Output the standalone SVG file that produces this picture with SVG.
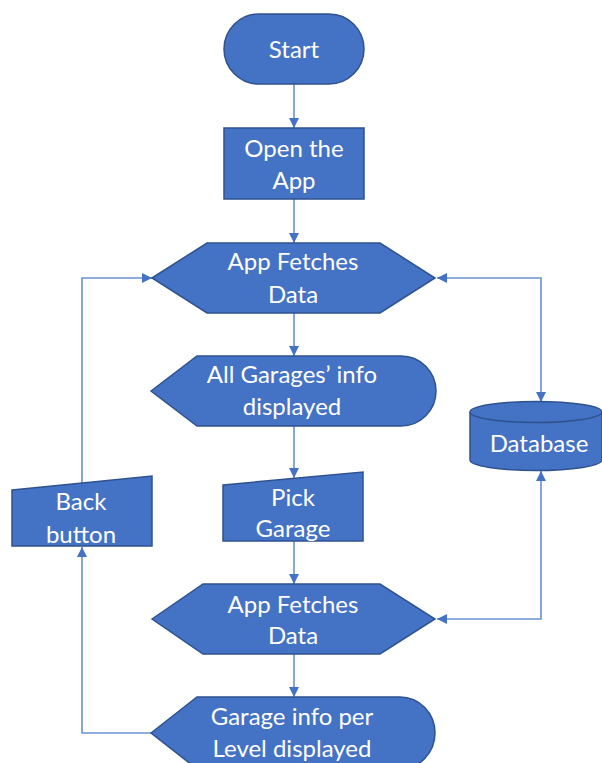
<svg xmlns="http://www.w3.org/2000/svg" width="602" height="763" viewBox="0 0 602 763">
  <defs>
    <marker id="arrow" viewBox="0 0 10 10" refX="10" refY="5" markerWidth="10" markerHeight="10" markerUnits="userSpaceOnUse" orient="auto-start-reverse">
      <path d="M0,0 L10,5 L0,10 z" fill="#4472C4"/>
    </marker>
    <style>
      .shape { fill: #4472C4; stroke: #2F528F; stroke-width: 1.5; }
      .label { fill: #ffffff; font-family: "Lato", "Open Sans", "Liberation Sans", sans-serif; font-size: 24px; text-anchor: middle; }
      .conn { fill: none; stroke: #6A92D4; stroke-width: 1.6; }
    </style>
  </defs>
  <rect width="602" height="763" fill="#ffffff"/>

  <!-- connectors -->
  <g id="connectors">
    <path class="conn" d="M294,84 V128" marker-end="url(#arrow)"/>
    <path class="conn" d="M294,199 V243" marker-end="url(#arrow)"/>
    <path class="conn" d="M294,313 V356" marker-end="url(#arrow)"/>
    <path class="conn" d="M294,426 V478" marker-end="url(#arrow)"/>
    <path class="conn" d="M294,541 V584" marker-end="url(#arrow)"/>
    <path class="conn" d="M294,654 V697" marker-end="url(#arrow)"/>
    <!-- fetch <-> database -->
    <path class="conn" d="M437,278 H541 V402" marker-start="url(#arrow)" marker-end="url(#arrow)"/>
    <path class="conn" d="M541,471 V619 H437" marker-start="url(#arrow)" marker-end="url(#arrow)"/>
    <!-- back button loop -->
    <path class="conn" d="M82,483 V278 H152" marker-end="url(#arrow)"/>
    <path class="conn" d="M152,733 H82 V547" marker-end="url(#arrow)"/>
  </g>

  <g id="start">
    <rect class="shape" x="224" y="14" width="140" height="70" rx="35" ry="35"/>
    <text class="label" x="294" y="58">Start</text>
  </g>

  <g id="open-app">
    <rect class="shape" x="224" y="128" width="140" height="71"/>
    <text class="label" x="294" y="157">Open the</text>
    <text class="label" x="294" y="189">App</text>
  </g>

  <g id="fetch-1">
    <polygon class="shape" points="152,278 207,243 380,243 435,278 380,313 207,313"/>
    <text class="label" x="293" y="270">App Fetches</text>
    <text class="label" x="293" y="303">Data</text>
  </g>

  <g id="all-garages">
    <path class="shape" d="M151,391 L197,356 H401 A35,35 0 0 1 401,426 H197 Z"/>
    <text class="label" x="292" y="383">All Garages’ info</text>
    <text class="label" x="292" y="415">displayed</text>
  </g>

  <g id="pick-garage">
    <polygon class="shape" points="223,485 363,472 363,541 223,541"/>
    <text class="label" x="293" y="506">Pick</text>
    <text class="label" x="293" y="537">Garage</text>
  </g>

  <g id="back-button">
    <polygon class="shape" points="12,490 152,476 152,546 12,546"/>
    <text class="label" x="81" y="510">Back</text>
    <text class="label" x="81" y="543">button</text>
  </g>

  <g id="fetch-2">
    <polygon class="shape" points="152,619 203,584 380,584 435,619 380,654 203,654"/>
    <text class="label" x="293" y="613">App Fetches</text>
    <text class="label" x="293" y="644">Data</text>
  </g>

  <g id="garage-level">
    <path class="shape" d="M151,733 L197,697 H400 A35,36 0 0 1 400,769 H197 Z"/>
    <text class="label" x="292" y="725">Garage info per</text>
    <text class="label" x="292" y="757">Level displayed</text>
  </g>

  <g id="database">
    <path class="shape" d="M470,412 A66,10.5 0 0 1 602,412 V460 A66,10.5 0 0 1 470,460 Z"/>
    <path class="shape" d="M470,412 A66,10.5 0 0 0 602,412" fill="none"/>
    <text class="label" x="539" y="452">Database</text>
  </g>
</svg>
